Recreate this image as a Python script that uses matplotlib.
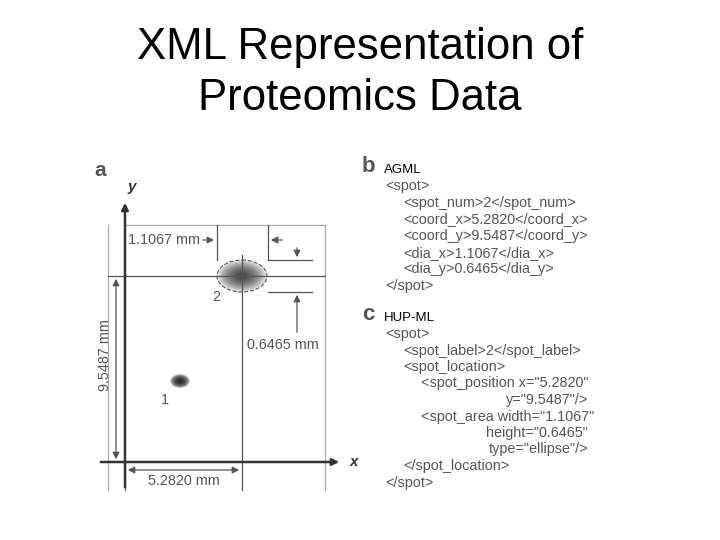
import matplotlib
matplotlib.use("Agg")
import matplotlib.pyplot as plt
from matplotlib.patches import Ellipse
import numpy as np

title_lines = ["XML Representation of", "Proteomics Data"]
spot_ids = ["1", "2"]
spot_x_px = [180, 242]
spot_y_px = [381, 276]
spot_w_px = [20, 50]
spot_h_px = [14, 32]
dims = {"dia_x": "1.1067 mm", "dia_y": "0.6465 mm", "coord_x": "5.2820 mm", "coord_y": "9.5487 mm"}
agml_lines = ["<spot>", "<spot_num>2</spot_num>", "<coord_x>5.2820</coord_x>",
              "<coord_y>9.5487</coord_y>", "<dia_x>1.1067</dia_x>", "<dia_y>0.6465</dia_y>", "</spot>"]
agml_indent = [0, 1, 1, 1, 1, 1, 0]
hup_lines = ["<spot>", "<spot_label>2</spot_label>", "<spot_location>",
             '<spot_position x="5.2820"', 'y="9.5487"/>', '<spot_area width="1.1067"',
             'height="0.6465"', 'type="ellipse"/>', "</spot_location>", "</spot>"]
hup_indent = [0, 1, 1, 2, -1, 2, -1, -1, 1, 0]

plt.rcParams['font.family'] = ['Liberation Sans', 'DejaVu Sans']
fig = plt.figure(figsize=(7.2, 5.4), dpi=100)
ax = fig.add_axes([0, 0, 1, 1])
ax.set_xlim(0, 720); ax.set_ylim(540, 0); ax.axis('off')

for i, t in enumerate(title_lines):
    ax.text(360, 48 + i * 50, t, ha='center', va='center', fontsize=31.5, color='black')

g = '#555555'; lw = 0.9; fs = 10.4
# panel a
ax.text(100, 170, 'a', fontsize=15, fontweight='bold', color=g, va='center', ha='center')
ax.plot([108, 108], [225, 490], color='#aaaaaa', lw=lw)
ax.plot([125, 325], [225, 225], color='#aaaaaa', lw=lw)
ax.plot([325, 325], [225, 490], color='#aaaaaa', lw=lw)
ax.annotate('', xy=(125, 200), xytext=(125, 490), arrowprops=dict(arrowstyle='-|>', color='#333', lw=1.8))
ax.annotate('', xy=(342, 462), xytext=(98, 462), arrowprops=dict(arrowstyle='-|>', color='#333', lw=1.8))
ax.text(128, 187, 'y', fontsize=11, fontstyle='italic', fontweight='bold', color='#333', va='center')
ax.text(350, 462, 'x', fontsize=11, fontstyle='italic', fontweight='bold', color='#333', va='center')
ax.plot([108, 325], [276, 276], color=g, lw=lw)
ax.plot([242, 242], [255, 490], color=g, lw=lw)
ax.plot([217, 217], [225, 260], color=g, lw=lw); ax.plot([268, 268], [225, 260], color=g, lw=lw)
ax.annotate('', xy=(217, 240), xytext=(200, 240), arrowprops=dict(arrowstyle='-|>', color=g, lw=lw))
ax.annotate('', xy=(268, 240), xytext=(285, 240), arrowprops=dict(arrowstyle='-|>', color=g, lw=lw))
ax.text(164, 240, dims["dia_x"], fontsize=fs, color=g, ha='center', va='center')
ax.plot([268, 312], [260, 260], color=g, lw=lw); ax.plot([268, 312], [292, 292], color=g, lw=lw)
ax.annotate('', xy=(297, 260), xytext=(297, 245), arrowprops=dict(arrowstyle='-|>', color=g, lw=lw))
ax.annotate('', xy=(297, 292), xytext=(297, 335), arrowprops=dict(arrowstyle='-|>', color=g, lw=lw))
ax.text(283, 345, dims["dia_y"], fontsize=fs, color=g, ha='center', va='center')
ax.plot([125, 125], [462, 490], color=g, lw=lw)
ax.annotate('', xy=(242, 470), xytext=(125, 470), arrowprops=dict(arrowstyle='<|-|>', color=g, lw=lw))
ax.text(184, 481, dims["coord_x"], fontsize=fs, color=g, ha='center', va='center')
ax.annotate('', xy=(116, 276), xytext=(116, 462), arrowprops=dict(arrowstyle='<|-|>', color=g, lw=lw))
ax.text(105, 355, dims["coord_y"], fontsize=fs, color=g, ha='center', va='center', rotation=90)
for sid, x, y, w, h in zip(spot_ids, spot_x_px, spot_y_px, spot_w_px, spot_h_px):
    a = 0.12 if sid == "2" else 0.2
    for k in np.linspace(1, 0.15, 12):
        ax.add_patch(Ellipse((x, y), w * k, h * k, color='#222', alpha=a, lw=0))
    if sid == "2":
        ax.add_patch(Ellipse((x, y), w, h, fill=False, ls='--', color=g, lw=0.8))
        ax.text(216, 297, sid, fontsize=fs, color=g, ha='center', va='center')
    else:
        ax.text(165, 400, sid, fontsize=fs, color=g, ha='center', va='center')

ax.text(368, 166, 'b', fontsize=16, fontweight='bold', color=g, ha='center', va='center')
ax.text(384, 170, 'AGML', fontsize=9.5, color='black', va='center')
for i, (t, ind) in enumerate(zip(agml_lines, agml_indent)):
    ax.text(385 + 18 * ind, 186 + 16.7 * i, t, fontsize=fs, color=g, va='center')
ax.text(368, 315, 'c', fontsize=16, fontweight='bold', color=g, ha='center', va='center')
ax.text(384, 318, 'HUP-ML', fontsize=9.5, color='black', va='center')
for i, (t, ind) in enumerate(zip(hup_lines, hup_indent)):
    y = 334 + 16.5 * i
    if ind < 0:
        ax.text(588, y, t, fontsize=fs, color=g, va='center', ha='right')
    else:
        ax.text(385 + 18 * ind, y, t, fontsize=fs, color=g, va='center')

fig.savefig('out.png', dpi=100)
